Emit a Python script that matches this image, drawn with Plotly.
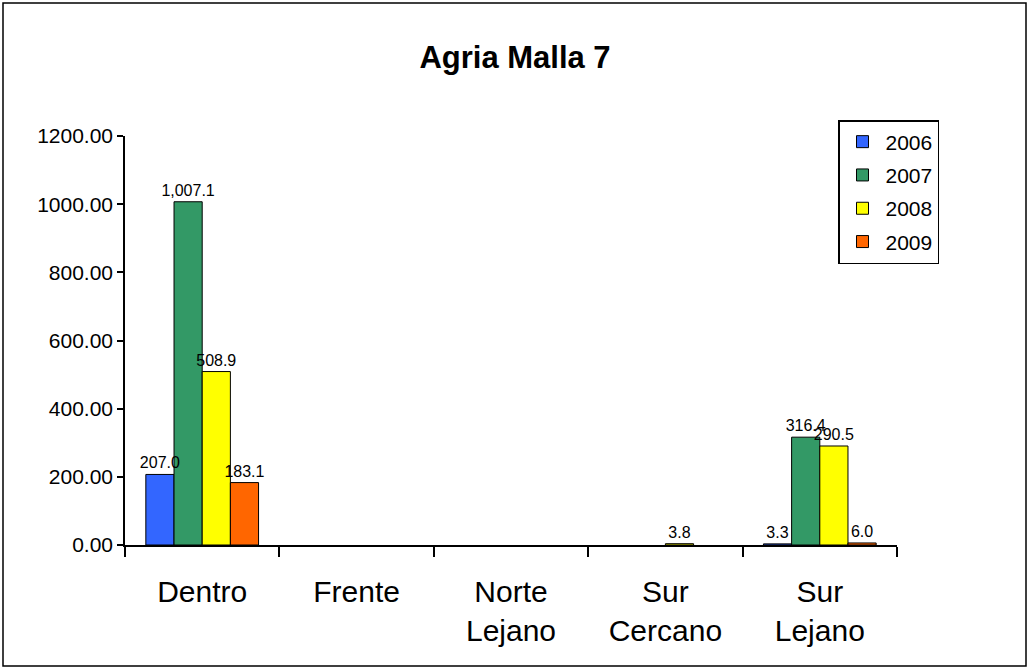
import plotly.graph_objects as go

categories = ["Dentro", "Frente", "Norte<br>Lejano", "Sur<br>Cercano", "Sur<br>Lejano"]
years = ["2006", "2007", "2008", "2009"]
v2006 = [207.0, None, None, None, 3.3]
v2007 = [1007.1, None, None, None, 316.4]
v2008 = [508.9, None, None, 3.8, 290.5]
v2009 = [183.1, None, None, None, 6.0]
series = [v2006, v2007, v2008, v2009]
colors = ["#3366FF", "#339966", "#FFFF00", "#FF6600"]
y_ticks = [0, 200, 400, 600, 800, 1000, 1200]

FONT = "Liberation Sans, Arial, sans-serif"

fig = go.Figure()
# bars
for name, vals, col in zip(years, series, colors):
    fig.add_trace(go.Bar(
        name=name, x=categories, y=vals, legendgroup=name, offsetgroup=name,
        marker=dict(color=col, line=dict(color="black", width=1)),
        hoverinfo="skip",
    ))
# data labels drawn above all bars (same slots, transparent bars)
for name, vals in zip(years, series):
    fig.add_trace(go.Bar(
        name=name, x=categories, y=vals, legendgroup=name, offsetgroup=name,
        showlegend=False,
        marker=dict(color="rgba(0,0,0,0)", line=dict(width=0)),
        texttemplate="%{y:,.1f}", textposition="outside",
        textfont=dict(size=16, color="black", family=FONT),
        cliponaxis=False,
    ))

W, H = 1030, 670
L, R, T, B = 125, 133, 136, 125
pw, ph = W - L - R, H - T - B

def px(x):
    return (x - L) / pw

def py(y):
    return (H - B - y) / ph

fig.update_layout(
    width=W, height=H,
    margin=dict(l=L, r=R, t=T, b=B),
    paper_bgcolor="white", plot_bgcolor="white",
    font=dict(family=FONT, color="black"),
    title=dict(text="<b>Agria Malla 7</b>", x=0.5, xanchor="center",
               y=1 - 57 / H, yanchor="middle", font=dict(size=31, family=FONT)),
    barmode="group", bargap=0.27, bargroupgap=0,
    uniformtext=dict(minsize=16, mode="show"),
    legend=dict(x=px(838), y=py(120), xanchor="left", yanchor="top",
                bordercolor="black", borderwidth=1.5, bgcolor="white",
                font=dict(size=21, family=FONT), itemwidth=36,
                tracegroupgap=3, entrywidth=79),
    showlegend=True,
    xaxis=dict(showline=True, linecolor="black", linewidth=1.5,
               ticks="outside", tickson="boundaries", ticklen=10,
               tickcolor="black", tickwidth=1.5, ticklabelstandoff=19,
               tickfont=dict(size=30, family=FONT), showgrid=False),
    yaxis=dict(range=[0, 1200], tickvals=y_ticks, tickformat=".2f",
               showline=True, linecolor="black", linewidth=1.5,
               ticks="outside", ticklen=6, tickcolor="black", tickwidth=1.5,
               tickfont=dict(size=21, family=FONT), showgrid=False,
               zeroline=False),
)

fig.add_shape(type="rect", xref="paper", yref="paper",
              x0=px(3), x1=px(1026), y0=py(666), y1=py(3),
              line=dict(color="black", width=1.5), fillcolor="rgba(0,0,0,0)")

fig.write_html("out.html", config={"displayModeBar": False},
               post_script="document.body.style.margin='0px';")
